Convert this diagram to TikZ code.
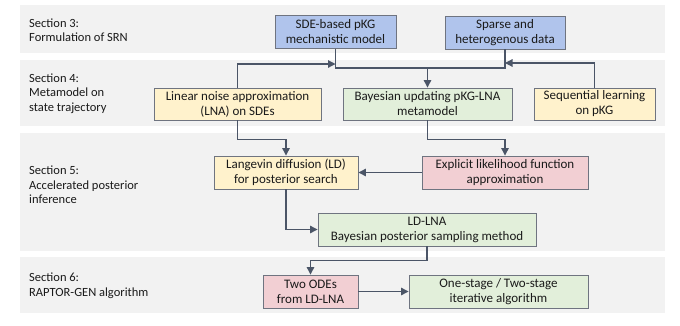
\documentclass[tikz,border=0pt]{standalone}
\usepackage{fontspec}
\setmainfont{Carlito}
\usetikzlibrary{arrows.meta}
\definecolor{bandgray}{HTML}{F2F2F2}
\definecolor{bluefill}{HTML}{B0C4EC}
\definecolor{yellowfill}{HTML}{FFF2CC}
\definecolor{greenfill}{HTML}{E2EFDA}
\definecolor{pinkfill}{HTML}{F2CFD3}
\definecolor{boxborder}{HTML}{6F7480}
\definecolor{arrowcol}{HTML}{4B5567}
\definecolor{txt}{HTML}{1A1A1A}
\tikzset{
  band/.style={fill=bandgray, draw=none},
  seclabel/.style={anchor=west, align=left, text=txt, font=\fontsize{12.5}{14.5}\selectfont, inner sep=0pt},
  boxbase/.style={draw=boxborder, line width=0.9pt, align=center, inner sep=1pt, text=txt,
    font=\fontsize{13}{15}\selectfont, minimum height=33pt},
  bluebox/.style={boxbase, fill=bluefill},
  yellowbox/.style={boxbase, fill=yellowfill},
  greenbox/.style={boxbase, fill=greenfill},
  pinkbox/.style={boxbase, fill=pinkfill},
  arr/.style={draw=arrowcol, line width=1.2pt, -{Triangle[length=7.5pt,width=7.5pt]}},
  conn/.style={draw=arrowcol, line width=1.2pt}
}
\begin{document}
\begin{tikzpicture}[x=1pt,y=-1pt]
\useasboundingbox (0,0) rectangle (680,325);
% bands
\fill[band] (20,5) rectangle (665,53);
\fill[band] (20,60) rectangle (665,126);
\fill[band] (20,133) rectangle (665,251);
\fill[band] (20,257) rectangle (665,313);
% section labels
\node[seclabel] (s3) at (29,30) {Section 3:\\Formulation of SRN};
\node[seclabel] (s4) at (29,93.5) {Section 4:\\Metamodel on\\state trajectory};
\node[seclabel] (s5) at (29,185) {Section 5:\\Accelerated posterior\\inference};
\node[seclabel] (s6) at (29,285.5) {Section 6:\\RAPTOR-GEN algorithm};
% boxes
\node[bluebox, minimum width=121pt] (sde) at (335.5,32) {SDE-based pKG\\mechanistic model};
\node[bluebox, minimum width=120pt] (sparse) at (505,32.5) {Sparse and\\heterogenous data};
\node[yellowbox, minimum width=167pt, minimum height=32pt] (lna) at (237.5,104) {Linear noise approximation\\(LNA) on SDEs};
\node[greenbox, minimum width=169pt, minimum height=32pt] (bay) at (427.5,104) {Bayesian updating pKG-LNA\\metamodel};
\node[yellowbox, minimum width=121pt, minimum height=32pt] (seq) at (594.5,104) {Sequential learning\\on pKG};
\node[yellowbox, minimum width=144pt] (lang) at (286,172.5) {Langevin diffusion (LD)\\for posterior search};
\node[pinkbox, minimum width=166pt] (expl) at (505,172.5) {Explicit likelihood function\\approximation};
\node[greenbox, minimum width=218pt] (ldlna) at (427,229.5) {LD-LNA\\Bayesian posterior sampling method};
\node[pinkbox, minimum width=95pt] (odes) at (310.5,291.5) {Two ODEs\\from LD-LNA};
\node[greenbox, minimum width=179pt] (one) at (498.5,291.5) {One-stage / Two-stage\\iterative algorithm};
% junction coordinates
\coordinate (j1) at (427.5,68);
\coordinate (j2) at (335.5,64);
\coordinate (j3) at (505,63);
% connectors
\draw[arr] (sde.south) |- (j1) -- (bay.north);
\draw[conn] (sparse.south) |- (j1);
\draw[arr] (lna.north) |- (j2);
\draw[arr] (seq.north) |- (j3);
\draw[arr] (lna.south) -- ++(0,19) -| (lang.north);
\draw[arr] (bay.south) -- ++(0,19) -| (expl.north);
\draw[arr] (expl.west) -- (lang.east);
\draw[arr] (lang.south) |- (ldlna.west);
\draw[arr] (ldlna.south) -- ++(0,14) -| (odes.north);
\draw[arr] (odes.east) -- (one.west);
\end{tikzpicture}
\end{document}
